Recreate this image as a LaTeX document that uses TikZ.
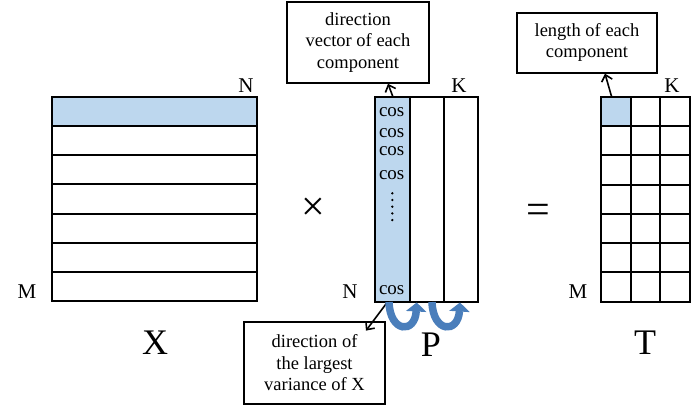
\documentclass[tikz,border=0pt]{standalone}
\usepackage{fontspec}
\setmainfont{Liberation Serif}
\usetikzlibrary{arrows.meta,calc}
\definecolor{cellblue}{RGB}{189,215,238}
\definecolor{arcblue}{RGB}{74,126,187}
\begin{document}
\begin{tikzpicture}[x=1pt,y=-1pt,
  gridline/.style={line width=2pt},
  note/.style={draw,line width=2pt,align=center,font=\fontsize{18.5}{21.5}\selectfont,inner sep=0pt},
  dimlabel/.style={font=\fontsize{21}{21}\selectfont,anchor=base,inner sep=0pt},
  biglabel/.style={font=\fontsize{36}{36}\selectfont},
  oplabel/.style={font=\fontsize{42}{42}\selectfont},
  coslabel/.style={font=\fontsize{19}{19}\selectfont,inner sep=0pt},
  arr/.style={line width=1.6pt,-{Straight Barb[length=6pt,width=11pt]}},
  uarr/.style={line width=7.5pt,draw=arcblue,-{Triangle[length=9pt,width=20pt]}}
]
\useasboundingbox (0,0) rectangle (696,406);

% ---------- X matrix ----------
\fill[cellblue] (52,97) rectangle (257,126.1);
\foreach \i in {1,...,6} {\draw[gridline] (52,{97+\i*29.14}) -- (257,{97+\i*29.14});}
\draw[gridline] (52,97) rectangle (257,301);
\node[dimlabel] (xn) at (246,93) {N};
\node[dimlabel] (xm) at (27,298) {M};
\node[biglabel] (xlab) at (155,343) {X};

% ---------- operators ----------
\node[oplabel] (times) at (313,209) {×};
\node[oplabel] (equals) at (538,214) {=};

% ---------- P matrix ----------
\fill[cellblue] (375,97) rectangle (409.5,301.5);
\draw[gridline] (409.5,97) -- (409.5,301.5);
\draw[gridline] (443.5,97) -- (443.5,301.5);
\draw[gridline] (375,97) rectangle (477.5,301.5);
\node[dimlabel] (pk) at (459,93) {K};
\node[dimlabel] (pn) at (350,298) {N};
\node[biglabel] (plab) at (431,345) {P};
\node[coslabel] (c1) at (391.7,111.7) {cos};
\node[coslabel] (c2) at (391.7,133) {cos};
\node[coslabel] (c3) at (391.7,151) {cos};
\node[coslabel] (c4) at (391.7,175) {cos};
\node[coslabel] (c5) at (391.7,290) {cos};
\foreach \j in {0,...,4} {\fill (392.3,{193.3+\j*6.7}) circle (1.3);}

% ---------- T matrix ----------
\fill[cellblue] (601,97) rectangle (630.5,126.2);
\foreach \i in {1,...,6} {\draw[gridline] (601,{97+\i*29.21}) -- (690,{97+\i*29.21});}
\draw[gridline] (630.5,97) -- (630.5,301.5);
\draw[gridline] (660,97) -- (660,301.5);
\draw[gridline] (601,97) rectangle (690,301.5);
\node[dimlabel] (tk) at (672,93) {K};
\node[dimlabel] (tm) at (578,298) {M};
\node[biglabel] (tlab) at (645,343) {T};

% ---------- notes ----------
\node[note,minimum width=142pt,minimum height=81pt] (dirvec) at (358,42.3) {direction\\vector of each\\component};
\node[note,minimum width=140pt,minimum height=60pt] (lenbox) at (587,42.7) {length of each\\component};
\node[note,minimum width=141pt,minimum height=82pt] (varbox) at (314.5,362.6) {direction of\\the largest\\variance of X};

% ---------- connectors ----------
\coordinate (ptop) at (393,97);
\coordinate (ttop) at (611.7,97);
\coordinate (pbot) at (386.7,303);
\draw[arr] (ptop) -- ([xshift=30pt]dirvec.south);
\draw[arr] (ttop) -- ([xshift=18pt]lenbox.south);
\draw[arr] (pbot) -- ([xshift=-20pt,yshift=-10pt]varbox.north east);

% ---------- curved arrows ----------
\coordinate (u1s) at (389,302);
\coordinate (u1e) at (416.7,302.5);
\coordinate (u2s) at (432,302);
\coordinate (u2e) at (460,302.5);
\draw[uarr] (u1s) .. controls (390,333) and (415,334) .. (u1e);
\draw[uarr] (u2s) .. controls (433,333) and (458,334) .. (u2e);
\end{tikzpicture}
\end{document}
